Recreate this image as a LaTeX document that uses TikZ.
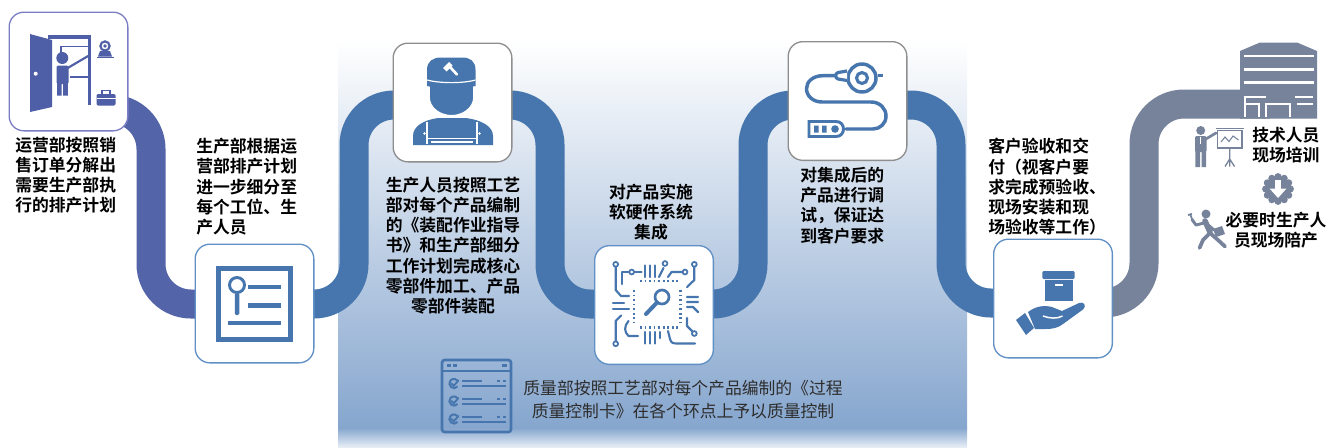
\documentclass[tikz,border=0pt]{standalone}
\usepackage{fontspec}
\setmainfont{Noto Sans CJK SC}[BoldFont={Noto Sans CJK SC Bold}]
\usetikzlibrary{backgrounds}

\definecolor{purpband}{HTML}{5464A8}
\definecolor{purpicon}{HTML}{4F5FA7}
\definecolor{purpedge}{HTML}{7C7EC3}
\definecolor{steel}{HTML}{4676AD}
\definecolor{steeledge}{HTML}{6090C4}
\definecolor{slate}{HTML}{76839A}
\definecolor{greyedge}{HTML}{8E8E8E}
\definecolor{panelblue}{HTML}{86A6CE}
\definecolor{notegrey}{HTML}{2D2D2D}

\begin{document}
\begin{tikzpicture}[
  x=0.75pt, y=-0.75pt,
  stepbox/.style={draw=#1, fill=white, line width=1pt, rounded corners=11pt, minimum size=89pt, inner sep=0pt},
  band/.style={draw=#1, line width=21.75pt, rounded corners=30pt},
  lbl/.style={inner sep=0pt, font=\bfseries\fontsize{12.6}{15.2}\selectfont, align=left, anchor=north west},
  clbl/.style={lbl, align=center, anchor=north},
  wire/.style={draw=steel, line width=1.6pt, line cap=round, line join=round},
  pad/.style={draw=steel, fill=white, line width=1.3pt}
]
\useasboundingbox (0,0) rectangle (1326,447);

% steps
\node[stepbox=purpedge] (b1) at (68.5,71.5) {};
\node[stepbox=steeledge] (b2) at (254.5,303.5) {};
\node[stepbox=greyedge] (b3) at (452.5,102.5) {};
\node[stepbox=steeledge] (b4) at (654,305) {};
\node[stepbox=greyedge] (b5) at (847.5,101) {};
\node[stepbox=steeledge] (b6) at (1053,298.5) {};
\coordinate (site) at (1270,104);

\coordinate (t1) at (151,109);  \coordinate (u1) at (151,304);
\coordinate (t2) at (354,105);  \coordinate (u2) at (354,304);
\coordinate (t3) at (550,105);  \coordinate (u3) at (550,304);
\coordinate (t4) at (753,105);  \coordinate (u4) at (753,304);
\coordinate (t5) at (951,105);  \coordinate (u5) at (951,303);
\coordinate (t6) at (1144,104); \coordinate (u6) at (1144,303);

\begin{scope}[on background layer]
  % shaded panel behind the middle steps
  \shade[top color=white, middle color=panelblue!45, bottom color=panelblue] (338,40) rectangle (967,428);
  \shade[top color=panelblue, bottom color=panelblue!20] (338,428) rectangle (967,447);
  % the winding road
  \draw[band=purpband] (b1.center |- t1) -- (t1) -- (u1) -- (b2.center |- u1);
  \draw[band=steel] (b2.center |- u2) -- (u2) -- (t2) -- (b3.center |- t2);
  \draw[band=steel] (b3.center |- t3) -- (t3) -- (u3) -- (b4.center |- u3);
  \draw[band=steel] (b4.center |- u4) -- (u4) -- (t4) -- (b5.center |- t4);
  \draw[band=steel] (b5.center |- t5) -- (t5) -- (u5) -- (b6.center |- u5);
  \draw[band=slate] (b6.center |- u6) -- (u6) -- (t6) -- (site);
\end{scope}

% door and presenter
\fill[purpicon] (30,34) -- (52,40) -- (52,107) -- (30,112) -- cycle;
\fill[white] (35.7,73.7) circle (2);
\fill[purpicon] (48,35) rectangle (91,38.5);
\fill[purpicon] (87.5,35) rectangle (91,105);
\draw[purpicon, line width=1.3pt] (61,54) -- (61,46.5) -- (88,46.5) (70,77) -- (88,77);
\fill[purpicon] (62.3,58) circle (6);
\fill[purpicon, rounded corners=1pt] (56.5,65.5) rectangle (68.5,84);
\fill[purpicon] (57,83) rectangle (61.6,95.5) (63,83) rectangle (67.8,95.5);
\draw[purpicon, line width=1.6pt, line cap=round] (66,69) -- (89,55.5);
\draw[purpicon, line width=1.6pt] (105,46) circle (4.6);
\fill[purpicon] (105,46) circle (1.8);
\fill[purpicon] (100,51) -- (110,51) -- (112,56.5) -- (98,56.5) -- cycle;
\draw[purpicon, line width=1pt] (97,57.5) -- (114,57.5);
\fill[purpicon, rounded corners=1pt] (96.5,94) rectangle (115.5,105.5);
\draw[purpicon, line width=1.2pt] (102,94) -- (102,90.5) -- (110,90.5) -- (110,94);
\draw[white, line width=0.6pt] (96.5,98.5) -- (115.5,98.5);

% plan sheet with magnifier
\draw[steel, line width=3.6pt] (218.5,268.5) rectangle (290.5,339.5);
\draw[steel, line width=2.2pt] (237,285) circle (7.5);
\fill[steel, rounded corners=1pt] (234.8,293) rectangle (239.3,315);
\draw[steel, line width=3.4pt] (248,287) -- (281,287) (248,305.5) -- (281,305.5) (228,323) -- (281,323);

% worker
\fill[steel] (413,145) -- (413,136) .. controls (413,126) and (424,120) .. (438,118) -- (466,118) .. controls (481,120) and (493,126) .. (493,136) -- (493,145) -- cycle;
\fill[steel, draw=white, line width=1.2pt] (429,84) -- (474,84) -- (474,97) .. controls (474,108) and (463,115.8) .. (451.5,115.8) .. controls (440,115.8) and (429,108) .. (429,97) -- cycle;
\fill[steel] (427,86) -- (427,70) .. controls (427,61) and (433,57.5) .. (441,57.5) -- (462,57.5) .. controls (470,57.5) and (475.5,61) .. (475.5,70) -- (475.5,86) .. controls (463,89) and (440,89) .. cycle;
\draw[white, line width=0.9pt] (427,80) .. controls (440,83.5) and (463,83.5) .. (475.5,80);
\fill[white] (443,68) -- (449,62) -- (452.5,65.5) -- (446.5,71.5) -- cycle;
\draw[white, line width=2pt, line cap=round] (450,67) -- (457,74.5);
\draw[white, line width=0.9pt] (427,121.5) -- (427,144) (477,121.5) -- (477,144) (427,138.5) -- (477,138.5) (431,142) -- (473,142);
\fill[white] (424.5,133.5) circle (1.4) (479.5,133.5) circle (1.4);

% circuit under the lens
\draw[steel, line width=2.2pt, dash pattern=on 1.4pt off 2pt] (640,281) -- (678,281) (640,327.5) -- (678,327.5);
\draw[steel, line width=2.2pt, dash pattern=on 1.4pt off 2pt] (634,290) -- (634,322) (680.5,290) -- (680.5,322);
\draw[steel, line width=2pt] (662,297) circle (7);
\draw[steel, line width=3pt, line cap=round] (657,302.5) -- (646,314);
\draw[wire] (615.7,267) -- (615.7,290) -- (621,296) -- (629,296);
\draw[wire] (629,272) -- (621.7,272) -- (621.7,284);
\draw[wire] (633.5,272) -- (641.5,272);
\draw[wire] (645,265.5) -- (645,277) (650,265.5) -- (650,277) (655,265.5) -- (655,277);
\draw[wire] (659,277) -- (663.5,268);
\draw[wire] (682.5,272) -- (671.5,272) -- (668,277);
\draw[wire] (694.3,267) -- (694.3,280) -- (687,287);
\draw[wire] (687,297) -- (698,297) (687,302) -- (698,302) (687,307) -- (693,307) -- (698,312);
\draw[wire] (692,331) -- (687,326) -- (687,318);
\draw[wire] (645,332) -- (645,343.5) (650,332) -- (650,343.5) (655,332) -- (655,343.5) (660,332) -- (660,338);
\draw[wire] (668,331) -- (670,339) .. controls (671,343) and (673,343.5) .. (677,343.5) -- (695,343.5);
\draw[wire] (615.7,341) -- (615.7,321) -- (621,315.5);
\draw[wire] (613,309) -- (629,309) (613,303) -- (624,303);
\draw[wire] (628.5,321) .. controls (624,326) and (624,332) .. (628.5,336) -- (638,336);
\foreach \p in {(615.7,264.3),(631.7,272),(665,263.5),(685,272),(694.3,264.3),(694.3,333.5),(615.7,343.8)}
  \draw[pad] \p circle (2.4);

% cable tester
\draw[steel, line width=2.6pt] (862,78) circle (14);
\draw[steel, line width=2.3pt] (862,78) circle (5.5);
\draw[steel, line width=2.4pt] (877.5,75.5) -- (883,75.5);
\draw[steel, line width=2.4pt, fill=white, line join=round] (847,71) -- (838,72.5) .. controls (835,73.3) and (835,78.2) .. (838,79) -- (847,80.5);
\draw[steel, line width=2.6pt, line cap=round] (835,75.7) -- (823,75.7) .. controls (813,75.7) and (806.5,81.5) .. (806.5,88.7) .. controls (806.5,96) and (813,102) .. (822,102) -- (871,102) .. controls (880,102) and (886,108.5) .. (886,116) .. controls (886,123.5) and (880,129) .. (873,129) -- (846,129);
\draw[steel, line width=2.2pt] (809,121.5) -- (836,121.5) .. controls (846,121.5) and (846,136.5) .. (836,136.5) -- (809,136.5) -- cycle;
\fill[steel] (814,125.5) rectangle (818.5,132.5) (822,125.5) rectangle (826.5,132.5);
\fill[steel] (835,129) circle (3.8);

% hand holding a box
\fill[steel, rounded corners=1pt] (1042.3,271) rectangle (1074.7,279);
\fill[steel] (1044.7,280.3) rectangle (1073,300.7);
\fill[white] (1054.5,284) rectangle (1062.5,285.8);
\fill[steel] (1016,320) -- (1025,313) -- (1034,328) -- (1026,335) -- cycle;
\fill[steel] (1028,312) .. controls (1036,306) and (1044,305) .. (1052,307) -- (1062,311) -- (1079,303) .. controls (1084,301) and (1087,306) .. (1083,309.5) -- (1063,324) .. controls (1058,328) and (1052,329) .. (1046,329) -- (1035,329) -- cycle;
\draw[white, line width=1.1pt] (1043,316) .. controls (1050,318.5) and (1057,319) .. (1062.5,316);

% checklist card
\draw[steel, line width=2pt, rounded corners=2pt] (442,360) rectangle (511,432);
\draw[steel, line width=1.6pt] (442,371) -- (511,371);
\draw[steel, line width=1.6pt] (447,365.5) -- (451,365.5) (453,365.5) -- (457,365.5) (502,365.5) -- (507,365.5);
\foreach \r in {383.5,401,419} {
  \draw[steel, line width=1.5pt] (454,\r) ++(40:4.6) arc (40:320:4.6);
  \draw[steel, line width=1.4pt, line cap=round] (451.5,\r) -- (453.7,\r+2.3) -- (458.5,\r-3);
  \draw[steel, line width=1.5pt] (462,\r-2.5) -- (482,\r-2.5) (462,\r+2.8) -- (506,\r+2.8) (497,\r-2.5) -- (499.5,\r-2.5) (502.5,\r-2.5) -- (505.5,\r-2.5);
}

% site: building, training, on-site support
\fill[slate] (1240,51) -- (1260,42.5) -- (1297,42.5) -- (1317,51) -- (1317,118.5) -- (1240,118.5) -- cycle;
\draw[white, line width=2pt] (1243.5,56) -- (1313.5,56) (1243.5,69.3) -- (1313.5,69.3) (1243.5,82.7) -- (1313.5,82.7);
\draw[white, line width=1.5pt] (1245,117) -- (1245,96.5) -- (1266,96.5) (1245,104) -- (1259,104) -- (1259,117) (1266,117) -- (1266,104) -- (1290,104) -- (1290,117) (1295,96.5) -- (1313,96.5) (1297,104) -- (1313,104);
\fill[slate] (1200.7,130.5) circle (4.5);
\fill[slate, rounded corners=1pt] (1195,136) rectangle (1206.5,152);
\fill[slate] (1195.3,150) rectangle (1200,167) (1201.5,150) rectangle (1206.2,167);
\draw[white, line width=0.6pt] (1200.7,136.5) -- (1200.7,144);
\draw[slate, line width=2pt, line cap=round] (1205,139.5) -- (1216,133);
\draw[slate, line width=1.1pt] (1217.5,130.5) rectangle (1242,148) (1216,128.5) -- (1243.5,128.5);
\draw[slate, line width=0.8pt] (1221,142) -- (1225,137) -- (1229,141.5) -- (1233,136) -- (1238.5,140);
\draw[slate, line width=1pt] (1229.7,148) -- (1229.7,166.5) (1229.7,159) -- (1225,166.5) (1229.7,159) -- (1234.5,166.5);
\fill[slate] (1278,189) circle (13);
\foreach \a in {0,30,...,330}
  \fill[slate] (1278,189) ++(\a:12.3) circle (3.6);
\fill[white] (1274.6,179.5) rectangle (1281.4,189.5);
\fill[white] (1269.5,188.5) -- (1286.5,188.5) -- (1278,198) -- cycle;
\fill[slate] (1206,214) circle (4.5);
\draw[slate, line width=4.2pt, line cap=round] (1205,221) -- (1210,232);
\draw[slate, line width=2.8pt, line cap=round, line join=round] (1210,233) -- (1203,240) -- (1199.5,248) (1210,233) -- (1218,240) -- (1225,246.5);
\draw[slate, line width=2.2pt, line cap=round, line join=round] (1204,223) -- (1196,225) -- (1192,219.5) (1207,224) -- (1214,230);
\draw[slate, line width=1.3pt] (1190,213.5) -- (1193,222) (1188,215) -- (1192,214);
\fill[slate] (1213,229) -- (1222,226) -- (1225,234) -- (1216,237) -- cycle;

% labels
\node[lbl] (l1) at (15,136.5) {运营部按照销\\售订单分解出\\需要生产部执\\行的排产计划};
\node[lbl] (l2) at (196,138) {生产部根据运\\营部排产计划\\进一步细分至\\每个工位、生\\产人员};
\node[clbl] (l3) at (453,176.5) {生产人员按照工艺\\部对每个产品编制\\的《装配作业指导\\书》和生产部细分\\工作计划完成核心\\零部件加工、产品\\零部件装配};
\node[clbl] (l4) at (651,183.5) {对产品实施\\软硬件系统\\集成};
\node[lbl] (l5) at (800,166.5) {对集成后的\\产品进行调\\试，保证达\\到客户要求};
\node[lbl] (l6) at (988,138) {客户验收和交\\付（视客户要\\求完成预验收、\\现场安装和现\\场验收等工作）};
\node[lbl] (l7) at (1252,126.5) {技术人员\\现场培训};
\node[clbl] (l8) at (1276,211.5) {必要时生产人\\员现场陪产};
\node[clbl, font=\fontsize{12.6}{17.5}\selectfont, text=notegrey] (l9) at (683,379.8) {质量部按照工艺部对每个产品编制的《过程\\质量控制卡》在各个环点上予以质量控制};
\end{tikzpicture}
\end{document}
